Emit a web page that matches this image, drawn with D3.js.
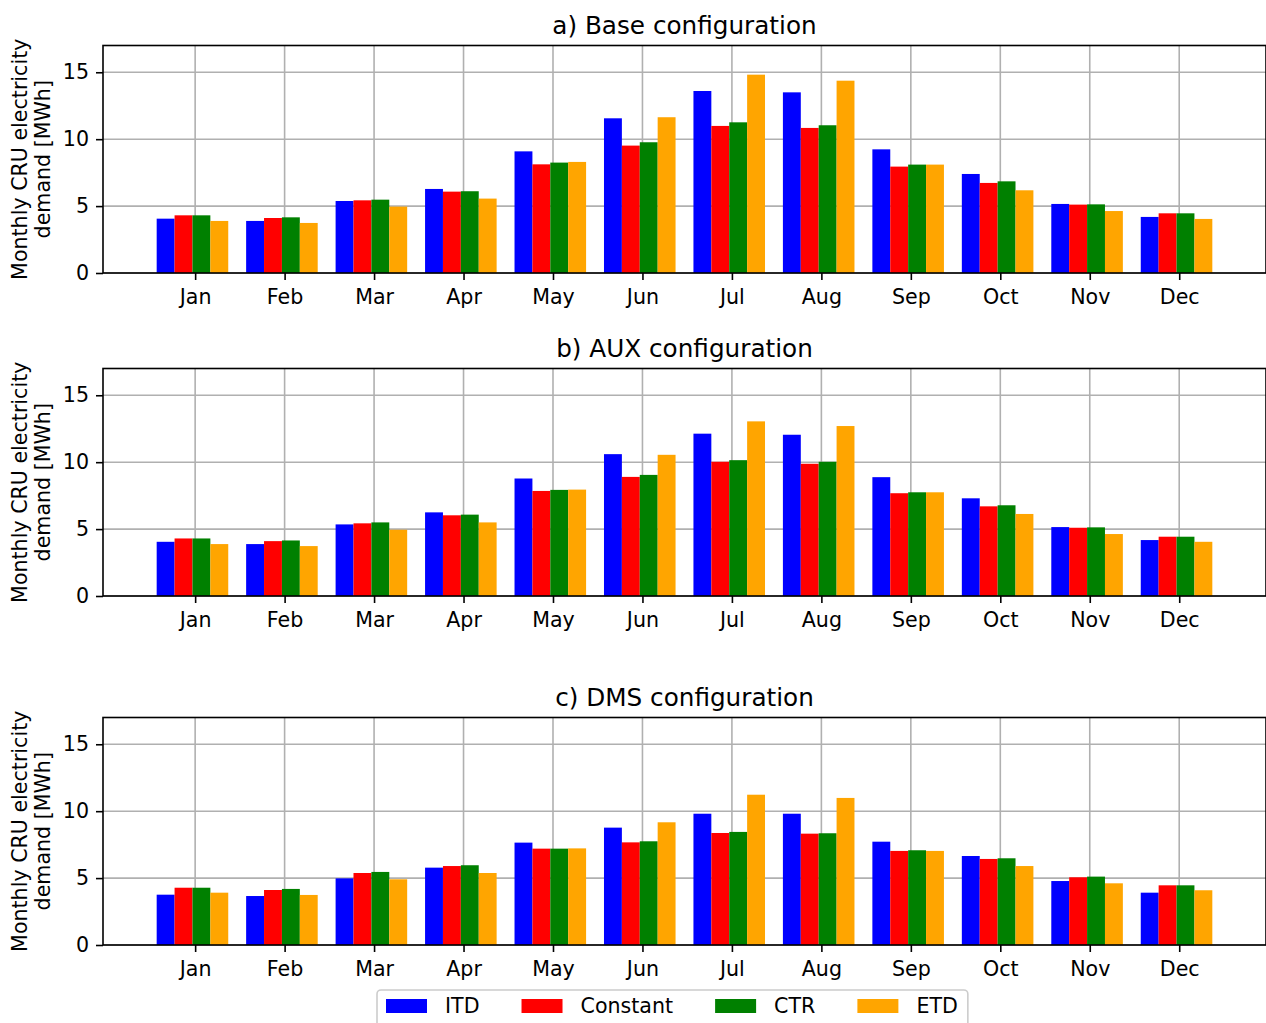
<!DOCTYPE html>
<html>
<head>
<meta charset="utf-8">
<script src="https://cdn.jsdelivr.net/npm/d3@7"></script>
<style>
  body { margin: 0; background: #fff; }
  text { font-family: "DejaVu Sans", sans-serif; fill: #000; }
</style>
</head>
<body>
<div id="chart"></div>
<script>
const months = ['Jan', 'Feb', 'Mar', 'Apr', 'May', 'Jun', 'Jul', 'Aug', 'Sep', 'Oct', 'Nov', 'Dec'];
const seriesNames = ['ITD', 'Constant', 'CTR', 'ETD'];
const yTicks = [0, 5, 10, 15];

// a) Base configuration
const baseITD = [4.06, 3.89, 5.38, 6.28, 9.09, 11.56, 13.6, 13.5, 9.24, 7.4, 5.16, 4.19];
const baseConstant = [4.31, 4.11, 5.43, 6.08, 8.12, 9.52, 10.99, 10.84, 7.95, 6.73, 5.11, 4.46];
const baseCTR = [4.31, 4.16, 5.48, 6.11, 8.25, 9.77, 11.26, 11.04, 8.1, 6.85, 5.13, 4.46];
const baseETD = [3.89, 3.74, 4.96, 5.56, 8.3, 11.64, 14.82, 14.37, 8.1, 6.18, 4.63, 4.04];

// b) AUX configuration
const auxITD = [4.05, 3.88, 5.35, 6.25, 8.78, 10.6, 12.13, 12.05, 8.88, 7.3, 5.15, 4.18];
const auxConstant = [4.3, 4.1, 5.43, 6.03, 7.85, 8.9, 10.03, 9.88, 7.68, 6.7, 5.1, 4.43];
const auxCTR = [4.3, 4.15, 5.5, 6.08, 7.93, 9.05, 10.15, 10.03, 7.75, 6.78, 5.13, 4.43];
const auxETD = [3.88, 3.73, 4.95, 5.5, 7.95, 10.55, 13.05, 12.7, 7.75, 6.13, 4.63, 4.05];

// c) DMS configuration
const dmsITD = [3.76, 3.66, 4.98, 5.78, 7.65, 8.77, 9.81, 9.81, 7.72, 6.65, 4.78, 3.91];
const dmsConstant = [4.28, 4.11, 5.38, 5.9, 7.2, 7.67, 8.37, 8.32, 7.03, 6.43, 5.06, 4.46];
const dmsCTR = [4.28, 4.19, 5.46, 5.96, 7.2, 7.75, 8.45, 8.35, 7.08, 6.48, 5.11, 4.46];
const dmsETD = [3.91, 3.74, 4.91, 5.38, 7.22, 9.17, 11.23, 10.99, 7.03, 5.9, 4.61, 4.09];

const colors = ['#0000ff', '#ff0000', '#008000', '#ffa500'];

const panels = [
  { title: 'a) Base configuration', top: 45.5, data: [baseITD, baseConstant, baseCTR, baseETD] },
  { title: 'b) AUX configuration', top: 368.5, data: [auxITD, auxConstant, auxCTR, auxETD] },
  { title: 'c) DMS configuration', top: 717.5, data: [dmsITD, dmsConstant, dmsCTR, dmsETD] },
];

const width = 1266, height = 1023;
const left = 103, right = 1266, panelHeight = 227.5;
const barWidth = 0.2, tickShift = 0.03;
const fontSize = '20.6px';

const svg = d3.select('#chart').append('svg')
  .attr('width', width)
  .attr('height', height);

svg.append('rect').attr('width', width).attr('height', height).attr('fill', '#fff');

const x = d3.scaleLinear().domain([-1, 12]).range([left, right]);

panels.forEach(p => drawPanel(p));
drawLegend();

function drawPanel(p) {
  const bottom = p.top + panelHeight;
  const y = d3.scaleLinear().domain([0, 17]).range([bottom, p.top]);
  const g = svg.append('g');

  // grid
  g.append('g')
    .selectAll('line.h')
    .data(yTicks)
    .join('line')
    .attr('x1', left).attr('x2', right)
    .attr('y1', d => y(d)).attr('y2', d => y(d))
    .attr('stroke', '#b0b0b0').attr('stroke-width', 1.6);
  g.append('g')
    .selectAll('line.v')
    .data(months)
    .join('line')
    .attr('x1', (d, i) => x(i + tickShift)).attr('x2', (d, i) => x(i + tickShift))
    .attr('y1', p.top).attr('y2', bottom)
    .attr('stroke', '#b0b0b0').attr('stroke-width', 1.6);

  // bars
  p.data.forEach((values, k) => {
    g.append('g')
      .selectAll('rect')
      .data(values)
      .join('rect')
      .attr('x', (d, i) => x(i - 0.4 + k * barWidth))
      .attr('width', x(barWidth) - x(0))
      .attr('y', d => y(d))
      .attr('height', d => bottom - y(d))
      .attr('fill', colors[k]);
  });

  // axes
  g.append('g')
    .attr('transform', 'translate(' + left + ',0)')
    .call(d3.axisLeft(y).tickValues(yTicks).tickSize(7).tickPadding(7))
    .call(a => a.select('.domain').remove())
    .selectAll('text').style('font-size', fontSize).style('font-family', '"DejaVu Sans", sans-serif');

  const xAxis = g.append('g')
    .attr('transform', 'translate(0,' + bottom + ')')
    .call(d3.axisBottom(x).tickValues(months.map((m, i) => i + tickShift))
      .tickFormat((d, i) => months[i]).tickSize(7).tickPadding(9));
  xAxis.select('.domain').remove();
  xAxis.selectAll('text').style('font-size', fontSize).style('font-family', '"DejaVu Sans", sans-serif');
  g.selectAll('.tick line').attr('stroke', '#000').attr('stroke-width', 1.6);

  g.append('rect')
    .attr('x', left).attr('y', p.top)
    .attr('width', right - left).attr('height', panelHeight)
    .attr('fill', 'none').attr('stroke', '#000').attr('stroke-width', 1.6);

  g.append('text')
    .attr('x', (left + right) / 2)
    .attr('y', p.top - 12)
    .attr('text-anchor', 'middle')
    .style('font-size', '24.7px')
    .text(p.title);

  const label = g.append('text')
    .attr('text-anchor', 'middle')
    .attr('transform', 'translate(27,' + (p.top + bottom) / 2 + ') rotate(-90)')
    .style('font-size', fontSize);
  label.append('tspan').attr('x', 0).attr('y', 0).text('Monthly CRU electricity');
  label.append('tspan').attr('x', 0).attr('y', 23).text('demand [MWh]');
}

function drawLegend() {
  const lg = svg.append('g');
  const frame = lg.append('rect')
    .attr('y', 990).attr('height', 45).attr('rx', 4)
    .attr('fill', '#fff').attr('fill-opacity', 0.8)
    .attr('stroke', '#cccccc').attr('stroke-width', 1.6);

  let cx = 386;
  seriesNames.forEach((name, k) => {
    lg.append('rect')
      .attr('x', cx).attr('y', 999)
      .attr('width', 41).attr('height', 14)
      .attr('fill', colors[k]);
    const t = lg.append('text')
      .attr('x', cx + 59).attr('y', 1013)
      .style('font-size', fontSize)
      .text(name);
    cx += 59 + t.node().getComputedTextLength() + 42;
  });
  frame.attr('x', 377).attr('width', cx - 42 + 10 - 377);
}
</script>
</body>
</html>
